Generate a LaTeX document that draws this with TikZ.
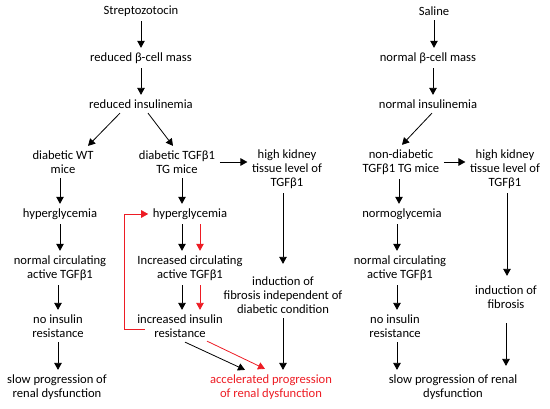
\documentclass[tikz,border=0pt]{standalone}
\usepackage{fontspec}
\setmainfont{Carlito}
\usetikzlibrary{arrows.meta}
\definecolor{pathred}{RGB}{237,28,36}

\begin{document}
\begin{tikzpicture}[x=1pt, y=-1pt,
    step text/.style={align=center, inner sep=4.5pt, font=\fontsize{12.6}{14}\selectfont},
    link/.style={line width=0.8pt, -{Triangle[length=7pt, width=7.5pt]}},
    redlink/.style={link, pathred}]
  \useasboundingbox (0,0) rectangle (550,409);

  % streptozotocin branch
  \node[step text] (stz) at (141,11) {Streptozotocin};
  \node[step text] (stzmass) at (141,58) {reduced β-cell mass};
  \node[step text] (stzins) at (141,104) {reduced insulinemia};
  \node[step text] (wt) at (63,162) {diabetic WT\\mice};
  \node[step text] (tg) at (177,162) {diabetic TGFβ1\\TG mice};
  \node[step text] (kidneyA) at (287,169) {high kidney\\tissue level of\\TGFβ1};

  % diabetic WT mice
  \node[step text] (wthyper) at (60,214) {hyperglycemia};
  \node[step text] (wtcirc) at (60,268) {normal circulating\\active TGFβ1};
  \node[step text] (wtres) at (58,326) {no insulin\\resistance};
  \node[step text] (wtslow) at (57,387) {slow progression of\\renal dysfunction};

  % diabetic TGFb1 TG mice
  \node[step text] (tghyper) at (190,214) {hyperglycemia};
  \node[step text] (tgcirc) at (190,268) {Increased circulating\\active TGFβ1};
  \node[step text] (tgres) at (180,326) {increased insulin\\resistance};
  \node[step text] (fibA) at (283,295) {induction of\\fibrosis independent of\\diabetic condition};
  \node[step text, text=pathred] (accel) at (271,387) {accelerated progression\\of renal dysfunction};

  % saline branch
  \node[step text] (sal) at (434,11) {Saline};
  \node[step text] (salmass) at (428,58) {normal β-cell mass};
  \node[step text] (salins) at (428,104) {normal insulinemia};
  \node[step text] (nd) at (401,162) {non-diabetic\\TGFβ1 TG mice};
  \node[step text] (kidneyB) at (505,169) {high kidney\\tissue level of\\TGFβ1};
  \node[step text] (ndnormo) at (402,214) {normoglycemia};
  \node[step text] (ndcirc) at (400,268) {normal circulating\\active TGFβ1};
  \node[step text] (ndres) at (395,326) {no insulin\\resistance};
  \node[step text] (fibB) at (506,297) {induction of\\fibrosis};
  \node[step text] (ndslow) at (453,387) {slow progression of renal\\dysfunction};

  % connectors, left half
  \draw[link] (stz.south) -- (stz.south |- stzmass.north);
  \draw[link] (stzmass.south) -- (stzmass.south |- stzins.north);
  \draw[link] ([xshift=-21pt]stzins.south) -- ([xshift=25pt]wt.north);
  \draw[link] ([xshift=7pt]stzins.south) -- ([xshift=-4pt]tg.north);
  \draw[link] (tg.east) -- (tg.east -| kidneyA.west);
  \draw[link] ([xshift=-3pt]wt.south) -- ([xshift=-3pt]wt.south |- wthyper.north);
  \draw[link] (wthyper.south) -- (wthyper.south |- wtcirc.north);
  \draw[link] ([xshift=-2pt]wtcirc.south) -- ([xshift=-2pt]wtcirc.south |- wtres.north);
  \draw[link] (wtres.south) -- (wtres.south |- wtslow.north);
  \draw[link] ([xshift=5pt]tg.south) -- ([xshift=5pt]tg.south |- tghyper.north);
  \draw[link] ([xshift=-8pt]tghyper.south) -- ([xshift=-8pt]tghyper.south |- tgcirc.north);
  \draw[redlink] ([xshift=10pt]tghyper.south) -- ([xshift=10pt]tghyper.south |- tgcirc.north);
  \draw[link] ([xshift=-8pt]tgcirc.south) -- ([xshift=-8pt]tgcirc.south |- tgres.north);
  \draw[redlink] ([xshift=10pt]tgcirc.south) -- ([xshift=10pt]tgcirc.south |- tgres.north);
  \draw[redlink] ([xshift=12pt, yshift=-3pt]tgres.west) -| ([xshift=-24pt]tghyper.west) -- (tghyper.west);
  \draw[link] ([xshift=5pt]tgres.south) -- ([xshift=-26pt]accel.north);
  \draw[redlink] ([xshift=27pt, yshift=1pt]tgres.south) -- ([xshift=-6pt, yshift=1pt]accel.north);
  \draw[link, shorten >=8pt] ([xshift=-4pt]kidneyA.south) -- ([xshift=-4pt]kidneyA.south |- fibA.north);
  \draw[link] (fibA.south) -- (fibA.south |- accel.north);

  % connectors, right half
  \draw[link] (sal.south) -- (sal.south |- salmass.north);
  \draw[link] ([xshift=5pt]salmass.south) -- ([xshift=5pt]salmass.south |- salins.north);
  \draw[link] ([xshift=4pt]salins.south) -- ([xshift=1pt]nd.north);
  \draw[link] (nd.east) -- (nd.east -| kidneyB.west);
  \draw[link] ([xshift=-2pt]nd.south) -- ([xshift=-2pt]nd.south |- ndnormo.north);
  \draw[link] ([xshift=-5pt]ndnormo.south) -- ([xshift=-5pt]ndnormo.south |- ndcirc.north);
  \draw[link] ([xshift=-3pt]ndcirc.south) -- ([xshift=-3pt]ndcirc.south |- ndres.north);
  \draw[link] ([xshift=2pt]ndres.south) -- ([xshift=2pt]ndres.south |- ndslow.north);
  \draw[link, shorten >=5pt] ([xshift=2pt]kidneyB.south) -- ([xshift=2pt]kidneyB.south |- fibB.north);
  \draw[link, shorten <=10pt, shorten >=4pt] (fibB.south) -- (fibB.south |- ndslow.north);
\end{tikzpicture}
\end{document}
